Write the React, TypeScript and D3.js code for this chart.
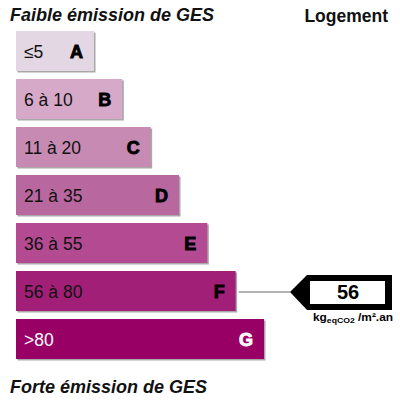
import { useMemo } from 'react'
import * as d3 from 'd3'

const classes = ['A', 'B', 'C', 'D', 'E', 'F', 'G']
const ranges = ['≤5', '6 à 10', '11 à 20', '21 à 35', '36 à 55', '56 à 80', '>80']
const colors = ['#e2d7e3', '#d6a9c9', '#c78bb3', '#b9679f', '#b34a92', '#a11f76', '#990066']
const labelColors = ['#111', '#111', '#111', '#111', '#111', '#111', '#fff']
const letterColors = ['#000', '#000', '#000', '#000', '#000', '#000', '#fff']
const value = 56
const valueClass = 'F'

const width = 400
const height = 400

export default function App() {
  const margin = useMemo(() => ({ top: 31, left: 16 }), [])

  const { y, w } = useMemo(() => {
    const yScale = d3
      .scaleBand<string>()
      .domain(classes)
      .range([margin.top, margin.top + 48 * classes.length])
      .padding(0)
    const wScale = d3
      .scaleLinear()
      .domain([0, classes.length - 1])
      .range([78, 248])
    return { y: yScale, w: wScale }
  }, [margin])

  const barH = y.bandwidth() - 8
  const vy = (y(valueClass) ?? 0) + barH / 2 + 1
  const tipX = 290
  const arrowRight = 392
  const arrowTop = vy - 17
  const arrowBottom = vy + 18
  const arrowPath = d3.path()
  arrowPath.moveTo(tipX, vy)
  arrowPath.lineTo(tipX + 17, arrowTop)
  arrowPath.lineTo(arrowRight, arrowTop)
  arrowPath.lineTo(arrowRight, arrowBottom)
  arrowPath.lineTo(tipX + 17, arrowBottom)
  arrowPath.closePath()

  return (
    <div style={{ position: 'fixed', left: 0, top: 0, width, height, background: '#fff' }}>
      <svg width={width} height={height} style={{ display: 'block', fontFamily: '"Liberation Sans", Arial, sans-serif' }}>
        <rect width={width} height={height} fill="#fff" />
        <text x={10} y={21} fontSize={18} fontWeight="bold" fontStyle="italic" fill="#111">
          Faible émission de GES
        </text>
        <text x={388} y={22} fontSize={17.5} fontWeight="bold" textAnchor="end" fill="#111">
          Logement
        </text>
        <text x={10} y={393} fontSize={18} fontWeight="bold" fontStyle="italic" fill="#111">
          Forte émission de GES
        </text>

        {classes.map((c, i) => {
          const top = y(c) ?? 0
          const bw = w(i)
          return (
            <g key={c}>
              <rect x={margin.left + 1.5} y={top + 1.5} width={bw} height={barH} fill="#a8a8a8" />
              <rect x={margin.left} y={top} width={bw} height={barH} fill={colors[i]} />
              <text x={24} y={top + barH / 2 + 6.5} fontSize={17.5} fill={labelColors[i]}>
                {ranges[i]}
              </text>
              <text
                x={margin.left + bw - 11}
                y={top + barH / 2 + 6.5}
                fontSize={18}
                fontWeight="bold"
                textAnchor="end"
                fill={letterColors[i]}
                stroke={letterColors[i]}
                strokeWidth={0.9}
              >
                {c}
              </text>
            </g>
          )
        })}

        <line x1={margin.left + w(classes.indexOf(valueClass)) + 3} x2={tipX} y1={vy} y2={vy} stroke="#666" strokeWidth={1} />
        <path d={arrowPath.toString()} fill="#000" />
        <rect x={310} y={arrowTop + 6} width={75} height={arrowBottom - arrowTop - 12} fill="#fff" />
        <text x={348} y={vy + 7} fontSize={20} fontWeight="bold" textAnchor="middle" fill="#000">
          {value}
        </text>
        <text x={313} y={vy + 29} fontSize={11} fontWeight="bold" fill="#000" textLength={80} lengthAdjust="spacingAndGlyphs">
          kg
          <tspan fontSize={8} dy={1.5}>eqCO2</tspan>
          <tspan fontSize={11} dy={-1.5}> /m².an</tspan>
        </text>
      </svg>
    </div>
  )
}
